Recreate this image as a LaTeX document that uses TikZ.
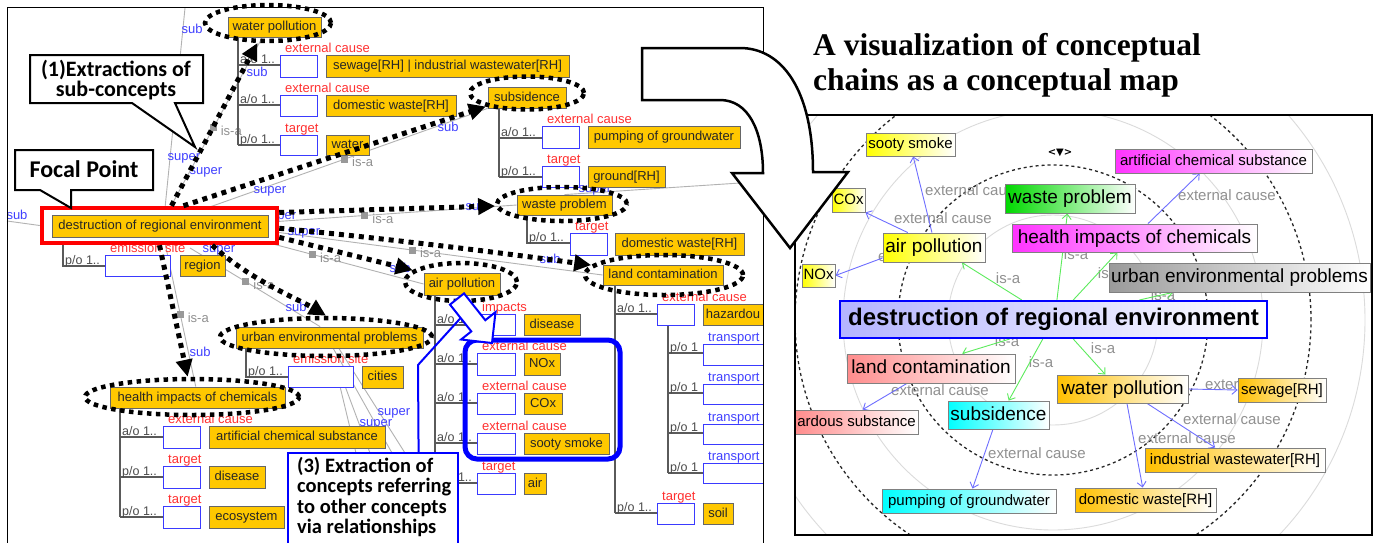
\documentclass[tikz,border=0pt]{standalone}
\usepackage{fontspec}
\setmainfont{Liberation Sans}
\newfontfamily\calib{Carlito}
\newfontfamily\timesf{Liberation Serif}
\newfontfamily\djv{DejaVu Sans}
\usetikzlibrary{arrows.meta,fit,calc,shapes.geometric}
\pgfdeclarelayer{L0}\pgfdeclarelayer{L1}\pgfdeclarelayer{L3}\pgfdeclarelayer{L4}
\pgfsetlayers{L0,L1,main,L3,L4}
\definecolor{ygold}{HTML}{FFC800}
\definecolor{rlab}{HTML}{FF3030}
\definecolor{blab}{HTML}{4040FF}
\definecolor{glab}{HTML}{909090}
\definecolor{tline}{HTML}{5A5A5A}
\definecolor{bbord}{HTML}{3A3AFF}
\definecolor{isag}{HTML}{5CEB5C}
\definecolor{ecb}{HTML}{6E6EFF}
\definecolor{cyel}{HTML}{FFFF00}
\definecolor{cgrn}{HTML}{00D800}
\definecolor{cmag}{HTML}{FF33FF}
\definecolor{cgry}{HTML}{9A9A9A}
\definecolor{cpnk}{HTML}{FF8C8C}
\definecolor{ccyn}{HTML}{00FFFF}
\definecolor{corg}{HTML}{FFC000}
\definecolor{clav}{HTML}{B4B4FF}
\tikzset{
 yb/.style={draw=black!60, line width=0.8pt, fill=ygold, inner sep=0pt, text=black!85, font=\fontsize{13}{15}\selectfont, text height=9.5pt, text depth=2.5pt},
 bb/.style={draw=bbord, line width=0.9pt, fill=white, inner sep=0pt},
 rl/.style={text=rlab, font=\fontsize{13}{15}\selectfont, inner sep=0pt, anchor=base west},
 bl/.style={text=blab, font=\fontsize{13}{15}\selectfont, inner sep=0pt},
 gl/.style={text=glab, font=\fontsize{13}{15}\selectfont, inner sep=0pt},
 tl/.style={text=black!70, font=\fontsize{12.5}{15}\selectfont, inner sep=0pt, anchor=base west},
 tree/.style={draw=tline, line width=1.1pt},
 gline/.style={draw=black!30, line width=0.9pt},
 sq/.style={fill=black!40, minimum size=7pt, inner sep=0pt},
 isalab/.style={gl, anchor=west, xshift=7pt, yshift=-3pt},
 dotell/.style={draw=black, line width=4.5pt, dash pattern=on 4.5pt off 4.5pt},
 dotarr/.style={draw=black, line width=5pt, dash pattern=on 5pt off 5pt, -{Triangle[length=17pt,width=16pt]}},
 callout/.style={draw=black, line width=2pt, fill=white, line join=miter},
 cn/.style={draw=black!50, line width=0.9pt, inner sep=0pt, text=black},
 sm/.style={font=\fontsize{15}{17}\selectfont, text height=11pt, text depth=3pt},
 md/.style={font=\fontsize{19}{21}\selectfont, text height=14pt, text depth=4pt},
 isa/.style={draw=isag, line width=0.9pt, -{Straight Barb[length=5pt,width=9pt]}},
 ec/.style={draw=ecb, line width=0.9pt, -{Straight Barb[length=5pt,width=9pt]}},
 rg/.style={text=glab, font=\fontsize{15}{17}\selectfont, inner sep=0pt},
}
% box node from corner (x1,y1) to (x2,y2)
\newcommand\mkbox[7]{%
 \pgfmathsetmacro\mkbw{#5-#3}\pgfmathsetmacro\mkbh{#6-#4}%
 \pgfmathsetmacro\mkcx{(#3+#5)/2}\pgfmathsetmacro\mkcy{(#4+#6)/2}%
 \node[#1, minimum width=\mkbw pt, minimum height=\mkbh pt] (#2) at (\mkcx,\mkcy) {#7};}
\begin{document}
\begin{tikzpicture}[x=1pt,y=-1pt]
\useasboundingbox (0,0) rectangle (1386,542);
\begin{pgfonlayer}{L0}\fill[white] (0,0) rectangle (1386,542);\end{pgfonlayer}

% ================= LEFT PANEL : nodes =================
\mkbox{draw=red, line width=4.5pt, fill=white, inner sep=0pt}{frb}{42}{208}{277}{243}{}
\mkbox{yb}{dre}{52}{215}{268}{237}{destruction of regional environment}
\mkbox{bb}{db1}{105}{255}{170}{276}{}
\mkbox{yb}{reg}{180}{255}{225}{276}{region}

\mkbox{yb}{wp}{228}{17}{321}{37}{water pollution}
\mkbox{bb}{wpb1}{280}{55}{317}{77}{}
\mkbox{bb}{wpb2}{280}{95}{317}{116}{}
\mkbox{bb}{wpb3}{280}{135}{317}{155}{}
\mkbox{yb}{sewl}{326}{55}{569}{77}{sewage[RH] | industrial wastewater[RH]}
\mkbox{yb}{dwl}{326}{95}{456}{116}{domestic waste[RH]}
\mkbox{yb}{wat}{326}{135}{369}{155}{water}

\mkbox{yb}{subs}{488}{87}{566}{108}{subsidence}
\mkbox{bb}{sb1}{542}{126}{579}{148}{}
\mkbox{bb}{sb2}{542}{166}{579}{187}{}
\mkbox{yb}{pog}{588}{126}{740}{148}{pumping of groundwater}
\mkbox{yb}{grd}{588}{166}{665}{187}{ground[RH]}

\mkbox{yb}{wprob}{517}{195}{612}{215}{waste problem}
\mkbox{bb}{wb1}{570}{233}{607}{255}{}
\mkbox{yb}{dw2}{615}{233}{744}{255}{domestic waste[RH]}

\mkbox{yb}{lcon}{603}{265}{723}{285}{land contamination}
\mkbox{bb}{lb1}{657}{304}{694}{325}{}
\mkbox{yb}{hzl}{703}{304}{763}{325}{hazardou}
\mkbox{bb}{tb1}{703}{344}{763}{365}{}
\mkbox{bb}{tb2}{703}{384}{763}{404}{}
\mkbox{bb}{tb3}{703}{424}{763}{444}{}
\mkbox{bb}{tb4}{703}{463}{763}{483}{}
\mkbox{bb}{lb2}{657}{503}{694}{524}{}
\mkbox{yb}{soil}{703}{503}{733}{524}{soil}

\mkbox{yb}{apol}{424}{273}{500}{295}{air pollution}
\mkbox{bb}{ab1}{477}{314}{515}{335}{}
\mkbox{bb}{ab2}{477}{353}{515}{375}{}
\mkbox{bb}{ab3}{477}{393}{515}{414}{}
\mkbox{bb}{ab4}{477}{433}{515}{454}{}
\mkbox{bb}{ab5}{477}{473}{515}{494}{}
\mkbox{yb}{dis1}{524}{314}{580}{335}{disease}
\mkbox{yb}{nox}{524}{353}{560}{375}{NOx}
\mkbox{yb}{cox}{524}{393}{562}{414}{COx}
\mkbox{yb}{soot}{524}{433}{609}{454}{sooty smoke}
\mkbox{yb}{air}{524}{473}{546}{494}{air}

\mkbox{yb}{uep}{236}{327}{423}{348}{urban environmental problems}
\mkbox{bb}{ub1}{288}{366}{353}{387}{}
\mkbox{yb}{cit}{362}{366}{403}{388}{cities}

\mkbox{yb}{hic}{110}{387}{285}{408}{health impacts of chemicals}
\mkbox{bb}{hb1}{163}{426}{200}{448}{}
\mkbox{bb}{hb2}{163}{466}{200}{488}{}
\mkbox{bb}{hb3}{163}{506}{200}{528}{}
\mkbox{yb}{acs}{209}{426}{385}{448}{artificial chemical substance}
\mkbox{yb}{dis2}{209}{466}{265}{488}{disease}
\mkbox{yb}{eco}{209}{506}{284}{528}{ecosystem}

% ================= LEFT PANEL : gray links =================
\begin{pgfonlayer}{L0}
\coordinate (h0) at (185,8); \coordinate (h0b) at (165,208);
\draw[gline] (h0) -- (h0b);
\coordinate (h1) at (170,208);
\draw[gline] (h1) -- node[pos=0.47,sq]{} node[pos=0.47,isalab]{is-a} ($(wp.south west)!0.37!(wp.south east)$);
\coordinate (h2) at (190,214);
\draw[gline] (h2) -- node[pos=0.52,sq]{} node[pos=0.52,isalab]{is-a} (subs.south west);
\coordinate (h3) at (270,222);
\draw[gline] (h3) -- node[pos=0.385,sq]{} node[pos=0.385,isalab]{is-a} (wprob.west);
\coordinate (h4) at (275,232);
\draw[gline] (h4) -- node[pos=0.42,sq]{} node[pos=0.42,isalab]{is-a} (lcon.west);
\coordinate (h5) at (258,240);
\draw[gline] (h5) -- node[pos=0.33,sq]{} node[pos=0.33,isalab]{is-a} (apol.west);
\coordinate (h6) at (190,248);
\draw[gline] (h6) -- node[pos=0.43,sq]{} node[pos=0.43,isalab]{is-a} ($(uep.north west)!0.45!(uep.north east)$);
\coordinate (h7) at (165,243);
\draw[gline] (h7) -- node[pos=0.5,sq]{} node[pos=0.5,isalab]{is-a} ($(hic.north west)!0.49!(hic.north east)$);
\coordinate (h8) at (7,221);
\draw[gline] (h8) -- (frb.west);
\coordinate (h9) at (740,183);
\draw[gline] ($(wprob.north west)!0.5!(wprob.north east)$) -- (h9);
\coordinate (f1) at (356,453); \coordinate (f2) at (370,453);
\coordinate (f3) at (392,453); \coordinate (f4) at (405,453);
\draw[gline] ($(ub1.south west)!0.8!(ub1.south east)$) -- (f1);
\draw[gline] ($(ub1.south west)!0.88!(ub1.south east)$) -- (f2);
\draw[gline] ($(uep.south west)!0.52!(uep.south east)$) -- (f3);
\draw[gline] ($(uep.south west)!0.55!(uep.south east)$) -- (f4);
\end{pgfonlayer}

% ================= LEFT PANEL : trees and labels =================
\begin{pgfonlayer}{L1}
\node[bl] (sb_a) at (192,29) {sub};
\node[bl] (sp_a) at (184,158) {super};
\node[bl] (sp_b) at (206,172) {super};
\node[bl] (sp_c) at (270,191) {super};
\node[bl] (sb_b) at (257,72) {sub};
\node[bl] (sb_c) at (448,127) {sub};
\node[bl] (sp_d) at (280,217) {super};
\node[bl] (sp_e) at (304,233) {super};
\node[bl] (sp_f) at (255,238) {super};
\node[bl] (sp_g) at (219,250) {super};
\node[bl] (sb_d) at (476,206) {sub};
\node[bl] (sb_e) at (550,259) {sub};
\node[bl] (sb_f) at (400,268) {sub};
\node[bl] (sb_g) at (296,307) {sub};
\node[bl] (sb_h) at (200,352) {sub};
\node[bl] (sb_i) at (17,215) {sub};
\node[bl] (sp_h) at (595,190) {super};
\node[bl] (sp_i) at (394,413) {super};
\node[bl] (sp_j) at (376,424) {super};

% destruction tree
\draw[tree] (63,243) -- (63,266) -- (db1.west |- 63,266);
\node[tl] at (65,264) {p/o 1..};
\node[rl] at (110,252) {emission site};
% water pollution tree
\draw[tree] (238,37) -- (238,145);
\draw[tree] (238,65) -- (wpb1.west |- 238,65);
\draw[tree] (238,105) -- (wpb2.west |- 238,105);
\draw[tree] (238,145) -- (wpb3.west |- 238,145);
\node[tl] at (240,63) {a/o 1..};
\node[tl] at (240,103) {a/o 1..};
\node[tl] at (240,143) {p/o 1..};
\node[rl] at (285,52) {external cause};
\node[rl] at (285,92) {external cause};
\node[rl] at (285,132) {target};
% subsidence tree
\draw[tree] (499,108) -- (499,177);
\draw[tree] (499,138) -- (sb1.west |- 499,138);
\draw[tree] (499,177) -- (sb2.west |- 499,177);
\node[tl] at (501,136) {a/o 1..};
\node[tl] at (501,175) {p/o 1..};
\node[rl] at (547,123) {external cause};
\node[rl] at (547,163) {target};
% waste problem tree
\draw[tree] (527,215) -- (527,243) -- (wb1.west |- 527,243);
\node[tl] at (529,241) {p/o 1..};
\node[rl] at (575,230) {target};
% land contamination tree
\draw[tree] (615,285) -- (615,513);
\draw[tree] (615,314) -- (lb1.west |- 615,314);
\draw[tree] (615,513) -- (lb2.west |- 615,513);
\node[tl] at (617,312) {a/o 1..};
\node[tl] at (617,511) {p/o 1..};
\node[rl] at (662,301) {external cause};
\node[rl] at (662,500) {target};
\draw[tree] (668,325) -- (668,473);
\foreach \yy/\bn in {353/tb1,393/tb2,433/tb3,473/tb4}{
  \draw[tree] (668,\yy) -- (\bn.west |- 668,\yy);
  \node[tl] at (670,\yy-2) {p/o 1};
}
\foreach \yy in {341,381,421,460}{\node[bl, anchor=base west] at (708,\yy) {transport};}
% air pollution tree
\draw[tree] (435,295) -- (435,483);
\foreach \yy/\bn/\tt in {325/ab1/a\slash o 1..,364/ab2/a\slash o 1..,403/ab3/a\slash o 1..,443/ab4/a\slash o 1..,483/ab5/p\slash o 1..}{
  \draw[tree] (435,\yy) -- (\bn.west |- 435,\yy);
  \node[tl] at (437,\yy-2) {\tt};
}
\node[rl] at (482,311) {impacts};
\node[rl] at (482,350) {external cause};
\node[rl] at (482,390) {external cause};
\node[rl] at (482,430) {external cause};
\node[rl] at (482,470) {target};
% urban tree
\draw[tree] (246,348) -- (246,377) -- (ub1.west |- 246,377);
\node[tl] at (248,375) {p/o 1..};
\node[rl] at (293,363) {emission site};
% health tree
\draw[tree] (120,408) -- (120,517);
\draw[tree] (120,437) -- (hb1.west |- 120,437);
\draw[tree] (120,477) -- (hb2.west |- 120,477);
\draw[tree] (120,517) -- (hb3.west |- 120,517);
\node[tl] at (122,435) {a/o 1..};
\node[tl] at (122,475) {p/o 1..};
\node[tl] at (122,515) {p/o 1..};
\node[rl] at (168,423) {external cause};
\node[rl] at (168,463) {target};
\node[rl] at (168,503) {target};
\end{pgfonlayer}

% ================= LEFT PANEL : overlays =================
\begin{pgfonlayer}{L3}
\node[ellipse, dotell, minimum width=126pt, minimum height=36pt, inner sep=0pt] (e1) at (268,23) {};
\node[ellipse, dotell, minimum width=114pt, minimum height=33pt, inner sep=0pt] (e2) at (527,93) {};
\node[ellipse, dotell, minimum width=130pt, minimum height=34pt, inner sep=0pt] (e3) at (562,204) {};
\node[ellipse, dotell, minimum width=158pt, minimum height=40pt, inner sep=0pt] (e4) at (664,275) {};
\node[ellipse, dotell, minimum width=112pt, minimum height=38pt, inner sep=0pt] (e5) at (461,282) {};
\node[ellipse, dotell, minimum width=212pt, minimum height=38pt, inner sep=0pt] (e6) at (326,337) {};
\node[ellipse, dotell, minimum width=214pt, minimum height=36pt, inner sep=0pt] (e7) at (192,397) {};

\draw[dotarr] ($(frb.north west)!0.55!(frb.north east)$) -- (e1);
\draw[dotarr] ($(frb.north west)!0.6!(frb.north east)$) -- (e2);
\draw[dotarr] ($(frb.north east)!0.17!(frb.south east)$) -- (e3);
\draw[dotarr] ($(frb.north east)!0.57!(frb.south east)$) .. controls (380,238) and (480,250) .. (e4);
\draw[dotarr] ($(frb.north east)!0.8!(frb.south east)$) -- (e5);
\draw[dotarr] ($(frb.south west)!0.72!(frb.south east)$) .. controls (250,280) and (300,300) .. (e6.north);
\draw[dotarr] ($(frb.south west)!0.5!(frb.south east)$) -- (e7);

% callout (1)
\draw[callout] (30,55) -- (203,55) -- (203,103) -- (175,103) -- (195,147) -- (132,103) -- (30,103) -- cycle;
\node[font=\calib\bfseries\fontsize{22}{18}\selectfont, align=center, inner sep=0pt] (c1) at (116,80) {(1)Extractions of\\sub-concepts};
% Focal point
\draw[callout] (15,150) -- (153,150) -- (153,190) -- (71,190) -- (71,208) -- (40,190) -- (15,190) -- cycle;
\node[font=\calib\bfseries\fontsize{24}{26}\selectfont, inner sep=0pt] (fp) at (84,169) {Focal Point};

% blue group and block arrow
\node[draw=blue, line width=5pt, rounded corners=12pt, fit={(465,340) (620,459)}, inner sep=0pt] (grp) {};
\node[draw=blue, line width=2pt, fill=white, fit={(288,453) (458,545)}, inner sep=0pt] (c3box) {};
\coordinate (pk1) at (418,365); \coordinate (pk2) at (460.6,318);
\draw[draw=blue, line width=2pt] ($(c3box.north west)!0.765!(c3box.north east)$) -- (pk1) -- (pk2);
\draw[draw=blue, line width=2pt, fill=white, line join=miter] (464,293.4) -- (485.3,320.2) -- (495.5,312.1) -- (492,343) -- (461.1,339.5) -- (471.3,331.4) -- (450,304.6) -- cycle;
\node[font=\calib\bfseries\fontsize{20.5}{20.5}\selectfont, align=left, anchor=north west, inner sep=0pt] (c3) at (297,457) {(3) Extraction of\\concepts referring\\to other concepts\\via relationships};

% left panel border
\draw[line width=1pt] (7,545) -- (7,7) -- (763,7) -- (763,545);
\end{pgfonlayer}

% ================= TITLE =================
\node[font=\timesf\bfseries\fontsize{31.5}{35}\selectfont, align=left, anchor=north west, inner sep=0pt] (title) at (813,33) {A visualization of conceptual\\chains as a conceptual map};

% ================= RIGHT PANEL =================
\begin{pgfonlayer}{L0}
\begin{scope}
\clip (795,115) rectangle (1372,535);
\foreach \r in {105,210,312} \draw[black!14, line width=0.9pt] (1053,320) circle[radius=\r pt];
\foreach \r in {155,258} \draw[black!85, line width=1.3pt, dash pattern=on 3pt off 3pt] (1053,320) circle[radius=\r pt];
\end{scope}
\end{pgfonlayer}

\mkbox{cn, sm, left color=cyel, right color=white}{rsooty}{866}{133}{955}{156}{sooty smoke}
\mkbox{cn, sm, left color=cyel, right color=white}{rcox}{832}{188}{865}{212}{COx}
\mkbox{cn, sm, left color=cyel, right color=white}{rnox}{802}{264}{835}{287}{NOx}
\mkbox{cn, md, left color=cyel, right color=white}{rap}{883}{233}{985}{262}{air pollution}
\mkbox{cn, md, left color=cgrn, right color=white}{rwp}{1005}{184}{1135}{213}{waste problem}
\mkbox{cn, md, left color=cmag, right color=white}{rhi}{1012}{224}{1257}{252}{health impacts of chemicals}
\mkbox{cn, sm, left color=cmag, right color=white}{racs}{1115}{149}{1312}{173}{artificial chemical substance}
\mkbox{cn, md, left color=cgry, right color=white}{ruep}{1109}{263}{1370}{292}{urban environmental problems}
\mkbox{draw=blue, line width=2pt, left color=clav, right color=white, inner sep=0pt, font=\bfseries\fontsize{24}{26}\selectfont, text height=17pt, text depth=5pt}{rdre}{840}{301}{1267}{338}{destruction of regional environment}
\mkbox{cn, md, left color=cpnk, right color=white}{rlc}{847}{354}{1015}{383}{land contamination}
\mkbox{cn, sm, left color=cpnk, right color=white}{rhaz}{795}{410}{918}{434}{ardous substance}
\mkbox{cn, md, left color=ccyn, right color=white}{rsub}{948}{401}{1049}{429}{subsidence}
\mkbox{cn, sm, left color=ccyn, right color=white}{rpump}{882}{489}{1056}{513}{pumping of groundwater}
\mkbox{cn, md, left color=corg, right color=white}{rwpo}{1057}{375}{1188}{403}{water pollution}
\mkbox{cn, sm, left color=corg, right color=white}{rsew}{1238}{378}{1326}{402}{sewage[RH]}
\mkbox{cn, sm, left color=corg, right color=white}{rind}{1145}{448}{1325}{472}{industrial wastewater[RH]}
\mkbox{cn, sm, left color=corg, right color=white}{rdom}{1075}{488}{1216}{512}{domestic waste[RH]}
\node[font=\djv\bfseries\fontsize{10}{10}\selectfont, inner sep=0pt] (tri) at (1060,153) {<▼>};

\begin{pgfonlayer}{L1}
\node[rg] (lx1) at (974,190) {external cause};
\node[rg] (lx2) at (943,218) {external cause};
\node[rg] (lx3) at (927,256) {external cause};
\node[rg] (lx4) at (1227,195) {external cause};
\node[rg] (lx5) at (940,390) {external cause};
\node[rg] (lx6) at (1037,453) {external cause};
\node[rg] (lx7) at (1254,384) {external cause};
\node[rg] (lx8) at (1232,419) {external cause};
\node[rg] (lx9) at (1187,438) {external cause};
\node[rg] (li1) at (1008,278) {is-a};
\node[rg] (li2) at (1076,254) {is-a};
\node[rg] (li3) at (1110,273) {is-a};
\node[rg] (li4) at (1163,295) {is-a};
\node[rg] (li5) at (1007,341) {is-a};
\node[rg] (li6) at (1041,362) {is-a};
\node[rg] (li7) at (1103,348) {is-a};
\draw[isa] ($(rdre.north west)!0.426!(rdre.north east)$) -- ($(rap.south west)!0.77!(rap.south east)$);
\draw[isa] ($(rdre.north west)!0.508!(rdre.north east)$) -- ($(rwp.south west)!0.48!(rwp.south east)$);
\draw[isa] ($(rdre.north west)!0.546!(rdre.north east)$) -- ($(rhi.south west)!0.43!(rhi.south east)$);
\draw[isa] ($(rdre.north west)!0.70!(rdre.north east)$) -- ($(ruep.south west)!0.245!(ruep.south east)$);
\draw[isa] ($(rdre.south west)!0.398!(rdre.south east)$) -- ($(rlc.north west)!0.685!(rlc.north east)$);
\draw[isa] ($(rdre.south west)!0.475!(rdre.south east)$) -- ($(rsub.north west)!0.6!(rsub.north east)$);
\draw[isa] ($(rdre.south west)!0.546!(rdre.south east)$) -- ($(rwpo.north west)!0.37!(rwpo.north east)$);
\draw[ec] ($(rap.north west)!0.48!(rap.north east)$) -- ($(rsooty.south west)!0.53!(rsooty.south east)$);
\draw[ec] ($(rap.north west)!0.245!(rap.north east)$) -- (rcox.south east);
\draw[ec] ($(rap.north west)!0.85!(rap.south west)$) -- (rnox.east);
\draw[ec] ($(rhi.north west)!0.555!(rhi.north east)$) -- ($(racs.south west)!0.43!(racs.south east)$);
\draw[ec] ($(rlc.south west)!0.357!(rlc.south east)$) -- ($(rhaz.north west)!0.55!(rhaz.north east)$);
\draw[ec] ($(rsub.south west)!0.445!(rsub.south east)$) -- ($(rpump.north west)!0.52!(rpump.north east)$);
\draw[ec] ($(rwpo.north east)!0.5!(rwpo.south east)$) -- (rsew.west);
\draw[ec] ($(rwpo.south west)!0.687!(rwpo.south east)$) -- ($(rind.north west)!0.39!(rind.north east)$);
\draw[ec] ($(rwpo.south west)!0.534!(rwpo.south east)$) -- ($(rdom.north west)!0.48!(rdom.north east)$);
\end{pgfonlayer}

\begin{pgfonlayer}{L3}
\draw[line width=2.5pt] (795,115) rectangle (1372,535);
\end{pgfonlayer}

% ================= BIG ARROW =================
\begin{pgfonlayer}{L4}
\draw[fill=white, line width=2.5pt, line join=miter] (642,48) -- (740,48) .. controls (782,48) and (813,90) .. (813,172) -- (848,172) -- (790,248) -- (732,173) -- (763,173) .. controls (763,130) and (748,100) .. (720,100) -- (642,100) -- cycle;
\end{pgfonlayer}
\end{tikzpicture}
\end{document}
